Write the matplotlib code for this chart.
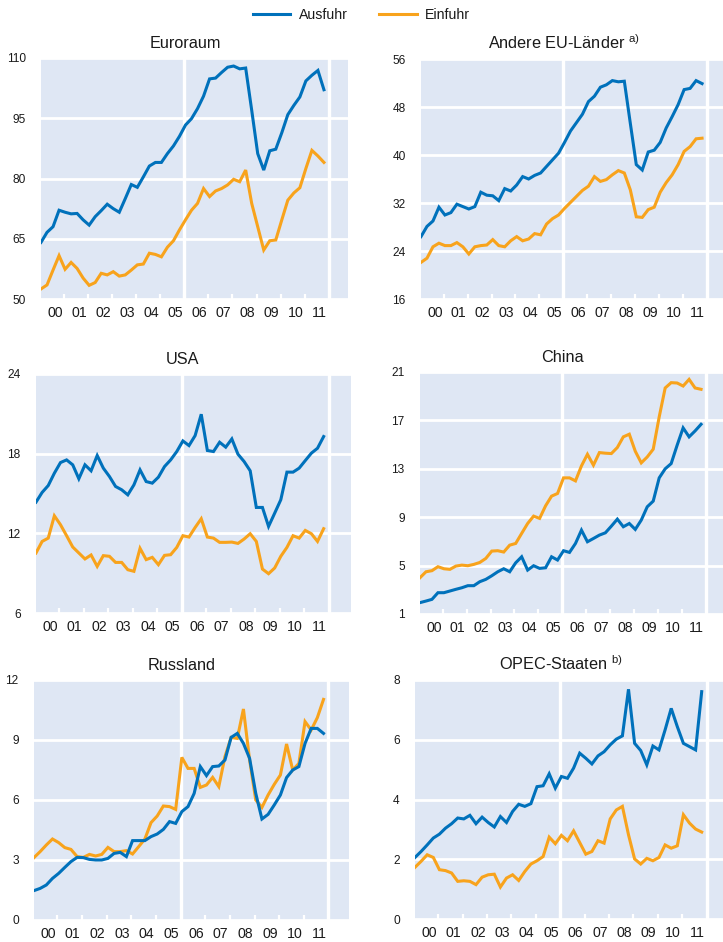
import numpy as np
import matplotlib
matplotlib.use("Agg")
import matplotlib.pyplot as plt
import matplotlib.transforms as mtransforms
from matplotlib.lines import Line2D

plt.rcParams['font.family'] = ['Liberation Sans', 'DejaVu Sans']
plt.rcParams['mathtext.default'] = 'regular'

# ---------------- data (quarterly, 2000Q1 .. 2011Q4) ----------------
year_labels = ["00", "01", "02", "03", "04", "05", "06", "07", "08", "09", "10", "11"]
series_names = ["Ausfuhr", "Einfuhr"]

euro_exp = [64.1, 66.6, 68.0, 72.1, 71.6, 71.2, 71.3, 69.7, 68.4, 70.5, 72.0, 73.6,
            72.5, 71.6, 75.0, 78.5, 77.8, 80.4, 83.1, 84.0, 84.0, 86.2, 88.1, 90.5,
            93.3, 94.9, 97.4, 100.5, 104.8, 105.0, 106.4, 107.7, 108.0, 107.3, 107.5, 97.0,
            86.2, 82.1, 86.9, 87.3, 91.4, 95.9, 98.2, 100.3, 104.3, 105.7, 106.9, 102.1]
euro_imp = [52.5, 53.5, 57.2, 60.8, 57.4, 59.1, 57.6, 55.2, 53.4, 54.1, 56.4, 56.0,
            56.8, 55.7, 56.0, 57.2, 58.5, 58.7, 61.4, 61.1, 60.5, 62.9, 64.5, 67.2,
            69.7, 72.1, 73.8, 77.5, 75.5, 76.9, 77.5, 78.4, 79.8, 79.2, 82.1, 73.8,
            68.0, 62.2, 64.5, 64.7, 69.7, 74.6, 76.4, 77.7, 82.5, 87.0, 85.6, 84.0]

eu_exp = [26.4, 28.1, 29.0, 31.3, 30.0, 30.4, 31.8, 31.4, 31.0, 31.4, 33.8, 33.3,
          33.2, 32.4, 34.4, 34.0, 35.0, 36.4, 36.0, 36.6, 37.0, 38.1, 39.2, 40.3,
          42.1, 44.0, 45.4, 46.8, 48.9, 49.8, 51.3, 51.7, 52.4, 52.2, 52.3, 45.3,
          38.4, 37.5, 40.5, 40.8, 42.1, 44.5, 46.4, 48.4, 50.9, 51.1, 52.4, 51.9]
eu_imp = [22.1, 22.8, 24.7, 25.3, 24.9, 24.9, 25.4, 24.7, 23.5, 24.7, 24.9, 25.0,
          25.9, 24.9, 24.7, 25.7, 26.4, 25.7, 26.0, 26.9, 26.7, 28.5, 29.4, 30.0,
          31.1, 32.1, 33.1, 34.1, 34.8, 36.4, 35.6, 35.9, 36.7, 37.4, 37.0, 34.2,
          29.7, 29.6, 30.9, 31.3, 33.8, 35.4, 36.7, 38.4, 40.6, 41.4, 42.7, 42.8]

usa_exp = [14.35, 15.08, 15.60, 16.53, 17.33, 17.53, 17.16, 16.11, 17.16, 16.71, 17.86, 16.91,
           16.28, 15.53, 15.28, 14.90, 15.65, 16.78, 15.90, 15.78, 16.23, 17.03, 17.53, 18.16,
           18.96, 18.61, 19.36, 20.97, 18.24, 18.16, 18.86, 18.49, 19.11, 17.96, 17.41, 16.71,
           13.95, 13.95, 12.52, 13.52, 14.53, 16.61, 16.61, 16.91, 17.48, 18.04, 18.41, 19.29]
usa_imp = [10.52, 11.39, 11.64, 13.32, 12.65, 11.82, 10.97, 10.52, 10.07, 10.37, 9.51, 10.32,
           10.27, 9.81, 9.81, 9.26, 9.14, 10.87, 10.02, 10.19, 9.64, 10.34, 10.39, 10.94,
           11.82, 11.72, 12.44, 13.10, 11.72, 11.64, 11.32, 11.32, 11.34, 11.24, 11.57, 11.97,
           11.39, 9.31, 8.96, 9.39, 10.27, 10.94, 11.82, 11.64, 12.22, 11.97, 11.39, 12.35]

china_exp = [1.94, 2.07, 2.21, 2.76, 2.76, 2.90, 3.04, 3.17, 3.34, 3.34, 3.67, 3.86,
             4.16, 4.49, 4.74, 4.49, 5.23, 5.73, 4.63, 4.99, 4.77, 4.82, 5.73, 5.46,
             6.23, 6.09, 6.83, 7.93, 6.97, 7.24, 7.52, 7.71, 8.26, 8.84, 8.21, 8.48,
             7.99, 8.76, 9.86, 10.33, 12.25, 13.00, 13.43, 14.95, 16.38, 15.64, 16.13, 16.68]
china_imp = [4.00, 4.49, 4.58, 4.91, 4.74, 4.69, 4.96, 5.04, 4.99, 5.10, 5.26, 5.59,
             6.20, 6.23, 6.12, 6.69, 6.83, 7.66, 8.48, 9.09, 8.90, 9.94, 10.74, 10.96,
             12.25, 12.25, 12.00, 13.24, 14.20, 13.30, 14.34, 14.29, 14.26, 14.76, 15.64, 15.86,
             14.45, 13.49, 13.98, 14.62, 17.29, 19.68, 20.12, 20.09, 19.84, 20.39, 19.68, 19.57]

rus_exp = [1.47, 1.58, 1.75, 2.08, 2.33, 2.63, 2.92, 3.13, 3.12, 3.03, 3.00, 3.00,
           3.08, 3.33, 3.38, 3.17, 3.97, 3.97, 3.97, 4.17, 4.30, 4.53, 4.92, 4.83,
           5.42, 5.67, 6.33, 7.67, 7.22, 7.67, 7.70, 8.00, 9.13, 9.33, 8.83, 8.08,
           6.33, 5.05, 5.28, 5.75, 6.25, 7.12, 7.50, 7.67, 8.83, 9.58, 9.58, 9.33]
rus_imp = [3.12, 3.42, 3.75, 4.05, 3.87, 3.62, 3.53, 3.17, 3.13, 3.28, 3.20, 3.28,
           3.63, 3.42, 3.42, 3.47, 3.30, 3.67, 4.05, 4.87, 5.20, 5.70, 5.67, 5.53,
           8.13, 7.58, 7.58, 6.63, 6.75, 7.13, 6.67, 8.17, 9.13, 9.08, 10.55, 8.00,
           6.00, 5.63, 6.25, 6.78, 7.25, 8.80, 7.50, 7.83, 9.92, 9.50, 10.12, 11.03]

opec_exp = [2.06, 2.26, 2.48, 2.71, 2.84, 3.04, 3.19, 3.38, 3.35, 3.47, 3.19, 3.41,
            3.23, 3.08, 3.43, 3.23, 3.60, 3.84, 3.77, 3.86, 4.43, 4.46, 4.86, 4.38,
            4.77, 4.71, 5.05, 5.55, 5.38, 5.19, 5.46, 5.60, 5.83, 6.02, 6.13, 7.69,
            5.88, 5.64, 5.16, 5.79, 5.66, 6.33, 7.05, 6.44, 5.88, 5.77, 5.66, 7.61]
opec_imp = [1.73, 1.93, 2.15, 2.06, 1.65, 1.62, 1.54, 1.26, 1.28, 1.26, 1.15, 1.40,
            1.48, 1.50, 1.07, 1.37, 1.48, 1.29, 1.59, 1.84, 1.95, 2.09, 2.74, 2.52,
            2.80, 2.62, 2.95, 2.56, 2.17, 2.26, 2.62, 2.54, 3.35, 3.65, 3.77, 2.82,
            2.01, 1.84, 2.03, 1.95, 2.06, 2.48, 2.37, 2.45, 3.49, 3.21, 3.01, 2.91]

titles = ["Euroraum", "Andere EU-Länder $^{a)}$", "USA", "China",
          "Russland", "OPEC-Staaten $^{b)}$"]
y_ticks = [[50, 65, 80, 95, 110], [16, 24, 32, 40, 48, 56], [6, 12, 18, 24],
           [1, 5, 9, 13, 17, 21], [0, 3, 6, 9, 12], [0, 2, 4, 6, 8]]
exports = [euro_exp, eu_exp, usa_exp, china_exp, rus_exp, opec_exp]
imports = [euro_imp, eu_imp, usa_imp, china_imp, rus_imp, opec_imp]

# ---------------- style / layout ----------------
W, H = 723, 942
BLUE = '#0071bb'
ORANGE = '#f8a31c'
BG = '#dfe7f4'
TXT = '#1a1a1a'

# axes boxes in pixels: left, right, top, bottom
boxes = [(41, 348, 58, 299), (421, 723, 59, 299),
         (36, 351, 374, 613), (420, 723, 372, 614),
         (34, 349, 680, 920), (415, 723, 680, 919)]
# pixels per quarter for each panel
ppq = [6.02, 5.98, 6.12, 5.98, 6.16, 6.1]

fig = plt.figure(figsize=(W / 100, H / 100), dpi=100)

q = np.arange(48)
for i in range(6):
    l, r, t, b = boxes[i]
    ax = fig.add_axes([l / W, 1 - b / H, (r - l) / W, (b - t) / H])
    ax.set_facecolor(BG)
    for s in ax.spines.values():
        s.set_visible(False)
    yt = y_ticks[i]
    ax.set_ylim(yt[0], yt[-1])
    ax.set_xlim(0, (r - l) / ppq[i])
    ax.set_yticks(yt)
    ax.grid(axis='y', color='white', lw=2.0)
    ax.set_axisbelow(True)
    ax.tick_params(axis='y', length=0, pad=11, labelsize=8.6, labelcolor=TXT)
    # year boundary ticks (white, inward) and year labels between them
    ax.set_xticks([4 * k - 0.2 for k in range(1, 12)])
    ax.set_xticklabels([])
    ax.tick_params(axis='x', which='major', direction='in', length=3.5, width=1.6,
                   color='white')
    ax.set_xticks([4 * k + 2.3 for k in range(12)], minor=True)
    ax.set_xticklabels(year_labels, minor=True)
    ax.tick_params(axis='x', which='minor', length=0, pad=5, labelsize=10.2,
                   labelcolor=TXT)
    for xv in (23.8, 47.8):
        ax.axvline(xv, color='white', lw=2.4, zorder=1.5)
    ax.plot(q, exports[i], color=BLUE, lw=2.2, zorder=3, solid_joinstyle='miter')
    ax.plot(q, imports[i], color=ORANGE, lw=2.2, zorder=2.5, solid_joinstyle='miter')
    trans = mtransforms.blended_transform_factory(ax.transData, ax.transAxes)
    ax.text(23.9, 1.0 + 7 / (b - t), titles[i], transform=trans, ha='center',
            va='bottom', fontsize=11.7, color=TXT)

handles = [Line2D([], [], color=BLUE, lw=2.2), Line2D([], [], color=ORANGE, lw=2.2)]
fig.legend(handles, series_names, loc='center', bbox_to_anchor=(0.5, 1 - 15 / H),
           ncol=2, frameon=False, fontsize=10.2, handlelength=2.65,
           handletextpad=0.6, columnspacing=2.2, labelcolor=TXT)

fig.savefig('out.png', dpi=100)
